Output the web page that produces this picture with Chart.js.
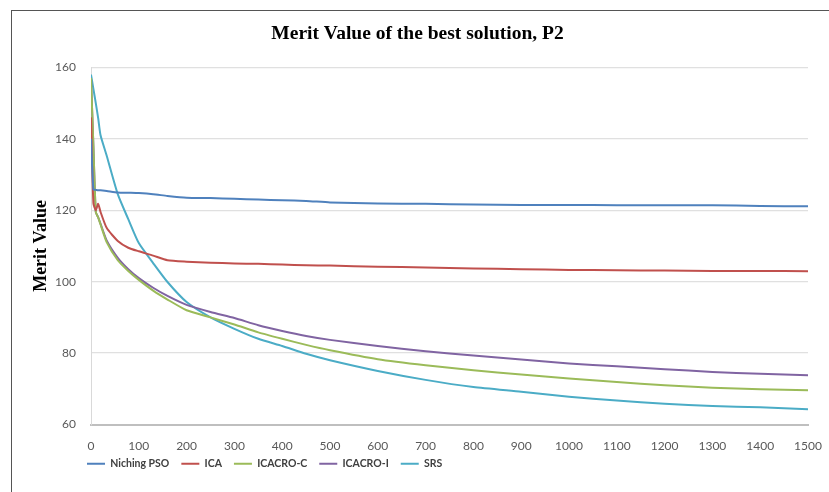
<!DOCTYPE html>
<html>
<head>
<meta charset="utf-8">
<script src="https://cdn.jsdelivr.net/npm/chart.js@4"></script>
<style>
  html, body { margin: 0; padding: 0; background: #fff; }
  #wrap { position: relative; width: 829px; height: 492px; overflow: hidden; }
  #frame { position: absolute; left: 11px; top: 10px; width: 900px; height: 600px;
           border-left: 1.5px solid #555; border-top: 1.5px solid #555; }
  canvas { position: absolute; left: 0; top: 0; }
</style>
</head>
<body>
<div id="wrap">
  <div id="frame"></div>
  <canvas id="c" width="829" height="492"></canvas>
</div>
<script>
const titleText = "Merit Value of the best solution, P2";
const yTitle = "Merit Value";
const seriesNames = ["Niching PSO", "ICA", "ICACRO-C", "ICACRO-I", "SRS"];
const iterations = [0, 5, 10, 15, 20, 33, 56, 78, 100, 130, 160, 200, 250, 300, 350, 400, 450, 500, 600, 700, 800, 900, 1000, 1100, 1200, 1300, 1400, 1500];
const nichingPSO = [140, 125.8, 125.7, 125.6, 125.6, 125.4, 125.0, 124.9, 124.8, 124.5, 124.0, 123.5, 123.4, 123.2, 123.0, 122.8, 122.6, 122.2, 121.9, 121.8, 121.6, 121.5, 121.5, 121.4, 121.4, 121.4, 121.2, 121.1];
const ica = [146, 122, 120, 121.8, 119.5, 115, 111.4, 109.5, 108.5, 107.3, 106, 105.6, 105.3, 105.1, 105.0, 104.8, 104.6, 104.5, 104.2, 104.0, 103.7, 103.5, 103.3, 103.2, 103.1, 103.0, 103.0, 102.9];
const icacroC = [157, 138, 119.5, 118, 116, 111, 106, 103, 100.5, 97.5, 95, 92, 90, 88, 85.8, 84, 82.3, 80.8, 78.3, 76.6, 75.2, 74, 72.9, 71.9, 71.0, 70.3, 69.9, 69.6];
const icacroI = [157, 138, 119.5, 118, 116.2, 111.5, 106.7, 103.5, 101, 98.3, 96, 93.5, 91.5, 89.8, 87.8, 86.2, 84.8, 83.7, 82, 80.5, 79.3, 78.2, 77.1, 76.3, 75.5, 74.7, 74.2, 73.8];
const srs = [158, 154, 150, 145.8, 141, 135.2, 124.5, 117.5, 110.8, 105.2, 99.9, 94.3, 90, 86.8, 84, 82, 79.8, 78, 75, 72.5, 70.5, 69.2, 67.8, 66.7, 65.8, 65.2, 64.8, 64.3];
const yTicks = [60, 80, 100, 120, 140, 160];
const xTicks = [0, 100, 200, 300, 400, 500, 600, 700, 800, 900, 1000, 1100, 1200, 1300, 1400, 1500];

const colors = ["#4F81BD", "#C0504D", "#9BBB59", "#8064A2", "#4BACC6"];
const allSeries = [nichingPSO, ica, icacroC, icacroI, srs];
const sans = 'Lato, "DejaVu Sans Condensed", sans-serif';
const serif = '"Liberation Serif", "DejaVu Serif", serif';

const datasets = allSeries.map((vals, i) => ({
  label: seriesNames[i],
  data: iterations.map((x, j) => ({ x: x, y: vals[j] })),
  borderColor: colors[i],
  backgroundColor: colors[i],
  borderWidth: 2,
  pointRadius: 0,
  tension: 0.2,
  fill: false
}));

// nudge the legend and title boxes to where the reference places them
const boxShift = {
  id: "boxShift",
  beforeDraw(chart) {
    const lg = chart.legend;
    if (lg) {
      const w = lg.right - lg.left, h = lg.bottom - lg.top;
      lg.left = 75; lg.right = lg.left + w;
      lg.top -= 8; lg.bottom = lg.top + h;
    }
    const tb = chart.titleBlock;
    if (tb) { tb.left -= 2; tb.right -= 2; }
  }
};

new Chart(document.getElementById("c"), {
  type: "line",
  data: { datasets },
  plugins: [boxShift],
  options: {
    responsive: false,
    animation: false,
    layout: { padding: { top: 12, right: 21, bottom: 5, left: 31 } },
    plugins: {
      title: {
        display: true, text: titleText, color: "#000",
        font: { family: serif, size: 19.5, weight: "bold" },
        padding: { top: 10, bottom: 22 }
      },
      legend: {
        position: "bottom",
        align: "start",
        labels: {
          usePointStyle: true, pointStyle: "line", pointStyleWidth: 18,
          color: "#404040", boxHeight: 12,
          font: { family: sans, size: 10.5, weight: "bold" },
          padding: 12
        }
      },
      tooltip: { enabled: false }
    },
    scales: {
      x: {
        type: "linear", min: 0, max: 1500,
        afterBuildTicks: (s) => { s.ticks = xTicks.map(v => ({ value: v })); },
        afterFit: (s) => { s.height = 30; s.paddingRight = 0; s.paddingLeft = 0; },
        grid: { display: false, drawTicks: false },
        border: { display: true, color: "#BFBFBF", width: 2 },
        ticks: { color: "#595959", font: { family: sans, size: 12 }, padding: 14, maxRotation: 0, autoSkip: false,
                 callback: (v) => String(v) }
      },
      y: {
        min: 60, max: 160,
        afterBuildTicks: (s) => { s.ticks = yTicks.map(v => ({ value: v })); },
        afterFit: (s) => { s.width = 60; },
        grid: { color: "#E0E0E0", drawTicks: false, lineWidth: 1.3 },
        border: { display: true, color: "#D9D9D9", width: 1 },
        ticks: { color: "#595959", font: { family: sans, size: 12 }, padding: 15, callback: (v) => String(v) },
        title: { display: true, text: yTitle, color: "#000", font: { family: serif, size: 18, weight: "bold" }, padding: { top: 0, bottom: 6 } }
      }
    }
  }
});
</script>
</body>
</html>
